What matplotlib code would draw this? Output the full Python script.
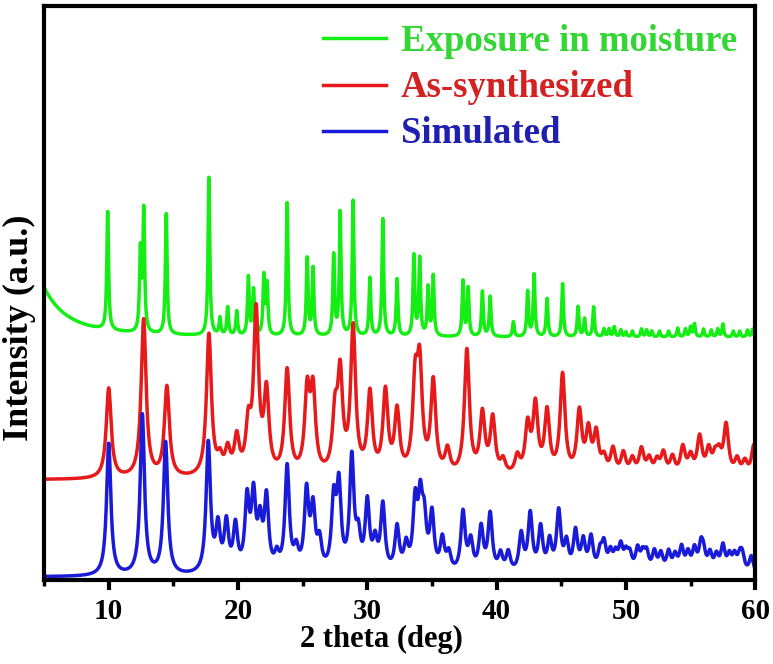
import numpy as np
import matplotlib
matplotlib.use("Agg")
import matplotlib.pyplot as plt
from matplotlib.ticker import MultipleLocator

plt.rcParams['font.family'] = ['Liberation Serif', 'DejaVu Serif']
plt.rcParams['font.weight'] = 'bold'

# peak lists: 2theta (deg), height above baseline (a.u.)
sim_pos = [10.0, 12.6, 14.4, 17.7, 18.45, 19.1, 19.8, 20.7, 21.2, 21.7, 22.2, 23.0,
           23.8, 24.5, 25.3, 25.8, 26.3, 27.4, 27.8, 28.8, 29.3, 30.0, 30.6, 31.2,
           32.3, 33.0, 33.7, 34.1, 34.4, 35.0, 35.8, 36.3, 37.4, 38.0, 38.8, 39.5,
           40.3, 40.9, 41.9, 42.6, 43.4, 44.1, 44.8, 45.4, 46.1, 46.7, 47.3, 48.0,
           48.3, 48.8, 49.2, 49.6, 50.0, 50.3, 50.9, 51.3, 51.6, 52.2, 52.7, 53.3,
           53.8, 54.3, 54.8, 55.3, 55.8, 56.0, 56.5, 57.0, 57.5, 58.0, 58.4, 58.8,
           59.0, 59.7]
sim_int = [132, 160, 132, 130, 44, 48, 45, 70, 72, 45, 72, 15,
           105, 20, 78, 60, 28, 68, 82, 112, 32, 68, 28, 66,
           44, 25, 66, 64, 45, 56, 32, 18, 60, 30, 44, 58,
           18, 20, 38, 58, 44, 30, 60, 28, 40, 30, 34, 18,
           26, 18, 16, 24, 16, 16, 22, 16, 18, 20, 18, 20,
           16, 24, 18, 22, 24, 16, 18, 16, 26, 16, 16, 14,
           16, 18]

syn_pos = [10.0, 12.7, 14.5, 17.75, 18.6, 19.2, 19.9, 20.8, 21.4, 22.2, 23.8,
           25.35, 25.8, 27.5, 27.9, 28.9, 30.2, 31.4, 32.3, 33.7, 34.05, 35.1,
           36.2, 37.7, 38.9, 39.7, 40.5, 41.6, 42.4, 43.0, 43.9, 45.1, 46.4,
           47.1, 47.7, 48.3, 49.0, 49.8, 50.5, 51.2, 51.8, 52.4, 52.9, 53.6,
           54.4, 55.0, 55.7, 56.4, 56.9, 57.2, 57.75, 58.6, 59.2, 59.9]
syn_int = [90, 158, 90, 142, 15, 24, 36, 45, 160, 80, 104,
           80, 80, 55, 95, 145, 80, 82, 62, 85, 100, 92,
           24, 125, 60, 56, 14, 18, 48, 68, 62, 100, 62,
           42, 40, 16, 26, 22, 16, 26, 16, 14, 22, 18,
           28, 18, 38, 24, 16, 18, 50, 16, 14, 32]

exp_pos = [9.92, 12.45, 12.71, 14.45, 17.75, 18.6, 19.2, 19.9, 20.8, 21.2, 22.0,
           22.25, 23.8, 25.35, 25.8, 27.4, 27.9, 28.9, 30.2, 31.2, 32.3, 33.6,
           34.05, 34.7, 35.1, 37.4, 37.8, 38.9, 39.5, 41.3, 42.4, 42.9, 43.9,
           45.1, 46.3, 46.8, 47.5, 48.3, 48.7, 49.1, 49.6, 50.0, 50.5, 51.2,
           51.6, 52.0, 52.6, 53.3, 54.0, 54.6, 55.0, 55.3, 56.0, 56.6, 57.1,
           57.5, 58.3, 58.8, 59.4, 59.8]
exp_int = [118, 80, 122, 122, 160, 17, 28, 24, 58, 45, 58,
           50, 133, 78, 67, 80, 123, 135, 58, 117, 57, 80,
           78, 48, 60, 55, 48, 45, 40, 15, 45, 62, 38,
           53, 30, 18, 30, 8, 8, 10, 7, 5, 6, 8,
           7, 6, 6, 6, 9, 8, 10, 13, 8, 7, 8,
           13, 6, 6, 7, 8]
# rising low-angle background of the exposed sample
exp_bg_pos, exp_bg_int, exp_bg_w = 3.0, 100, 2.0

baselines = {'sim': 3, 'syn': 100, 'exp': 242}
widths = {'sim': 0.2, 'syn': 0.23, 'exp': 0.08}

two_theta = np.linspace(5, 60, 2751)


def pattern(pos, inten, hw, base):
    y = np.full_like(two_theta, float(base))
    for p, h in zip(pos, inten):
        y += h / (1 + ((two_theta - p) / hw) ** 2)
    return y


sim = pattern(sim_pos, sim_int, widths['sim'], baselines['sim'])
syn = pattern(syn_pos, syn_int, widths['syn'], baselines['syn'])
exp = pattern(exp_pos, exp_int, widths['exp'], baselines['exp'])
exp += exp_bg_int / (1 + ((two_theta - exp_bg_pos) / exp_bg_w) ** 2)

fig = plt.figure(figsize=(7.73, 6.64), dpi=100)
ax = fig.add_axes([0.057, 0.1265, 0.92, 0.8645])

l_exp, = ax.plot(two_theta, exp, color='#14ee14', lw=2.5, label='Exposure in moisture')
l_syn, = ax.plot(two_theta, syn, color='#e61a1a', lw=2.5, label='As-synthesized')
l_sim, = ax.plot(two_theta, sim, color='#1a1ad9', lw=2.5, label='Simulated')

ax.set_xlim(5, 60)
ax.set_ylim(0, 573)
ax.set_yticks([])
ax.xaxis.set_major_locator(MultipleLocator(10))
ax.xaxis.set_minor_locator(MultipleLocator(5))
ax.tick_params(axis='x', which='major', direction='out', length=7, width=3,
               labelsize=21, pad=6)
ax.tick_params(axis='x', which='minor', direction='out', length=4, width=2.5)
for s in ax.spines.values():
    s.set_linewidth(3)

ax.set_xlabel('2 theta (deg)', fontsize=22, fontweight='bold', labelpad=0)
ax.xaxis.set_label_coords(0.475, -0.078)
ax.set_ylabel('Intensity (a.u.)', fontsize=26, fontweight='bold')
ax.yaxis.set_label_coords(-0.012, 0.44)

leg = ax.legend(handles=[l_exp, l_syn, l_sim], loc='upper right', frameon=False,
                handlelength=1.7, handletextpad=0.4,
                labelspacing=0.3, borderaxespad=0.1,
                prop={'family': 'Liberation Serif', 'weight': 'bold', 'size': 26.5})
for txt, c in zip(leg.get_texts(), ['#33d633', '#d42222', '#2020b0']):
    txt.set_color(c)

fig.savefig('out.png', dpi=100)
